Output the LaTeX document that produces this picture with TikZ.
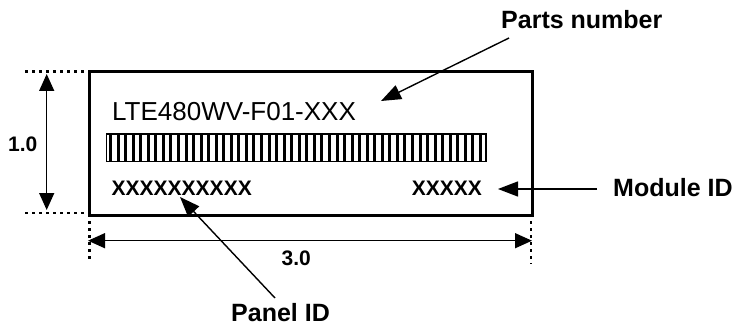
\documentclass[tikz,border=0pt]{standalone}
\usepackage{fontspec}
\setmainfont{Liberation Sans}
\usetikzlibrary{arrows.meta, positioning, calc}

\begin{document}
\begin{tikzpicture}[
    x=1pt, y=-1pt,
    label/.style={font=\fontsize{25}{30}\selectfont\bfseries, inner sep=0pt, anchor=base west},
    idtext/.style={font=\fontsize{21}{25}\selectfont\bfseries, inner sep=0pt},
    dim/.style={font=\fontsize{21}{25}\selectfont\bfseries, inner sep=0pt},
    pointer/.style={-{Triangle[length=20pt, width=15pt]}, line width=1.4pt},
    dimarrow/.style={{Triangle[length=17pt, width=15pt]}-{Triangle[length=17pt, width=15pt]}, line width=1.4pt},
    dotline/.style={line width=2.6pt, dash pattern=on 2.6pt off 4.4pt}
]
    \useasboundingbox (0,0) rectangle (737,329);

    % Label
    \draw[line width=3pt] (89.5,71.7) rectangle (532.5,215);
    \coordinate (lbl-nw) at (89.5,71.7);
    \coordinate (lbl-se) at (532.5,215);

    % Barcode
    \draw[line width=1.5pt] (106.7,134) rectangle (486,161.7);
    \foreach \i in {0,...,49}
        \draw[line width=3pt] ({110.5+\i*7.55},134) -- ({110.5+\i*7.55},161.7);

    % Printed texts
    \node[inner sep=0pt, anchor=base west, font=\fontsize{26}{30}\selectfont] (partno) at (112,121) {LTE480WV-F01-XXX};
    \node[idtext, anchor=base west] (panelno) at (111.5,195) {XXXXXXXXXX};
    \node[idtext, anchor=base east] (moduleno) at (482,195) {XXXXX};

    % Call-outs
    \node[label] (parts) at (501,29) {Parts number};
    \node[label] (module) at (613,196) {Module ID};
    \node[label] (panel) at (231,321.7) {Panel ID};

    \coordinate (parts-tip) at (381,101);
    \coordinate (parts-tail) at (509,38);
    \coordinate (module-tip) at (498,189);
    \coordinate (module-tail) at (597,189);
    \coordinate (panel-tip) at (180,197);
    \coordinate (panel-tail) at (275,298);

    \draw[pointer] (parts-tail) -- (parts-tip);
    \draw[pointer] (module-tail) -- (module-tip);
    \draw[pointer] (panel-tail) -- (panel-tip);

    % Dimensions
    \draw[dotline] (25,71.7) -- (86,71.7);
    \draw[dotline] (25,213) -- (86,213);
    \draw[dotline] (89.5,221) -- (89.5,260);
    \draw[dotline] (531,221) -- (531,264);

    \coordinate (h-top) at (46.7,74);
    \coordinate (h-bot) at (46.7,210);
    \coordinate (w-left) at (88,240.7);
    \coordinate (w-right) at (532,240.7);
    \draw[dimarrow] (h-top) -- (h-bot);
    \draw[dimarrow] (w-left) -- (w-right);

    \node[dim, anchor=base west] (height) at (8,151.7) {1.0};
    \node[dim, anchor=base west] (width) at (281.5,265) {3.0};
\end{tikzpicture}
\end{document}
